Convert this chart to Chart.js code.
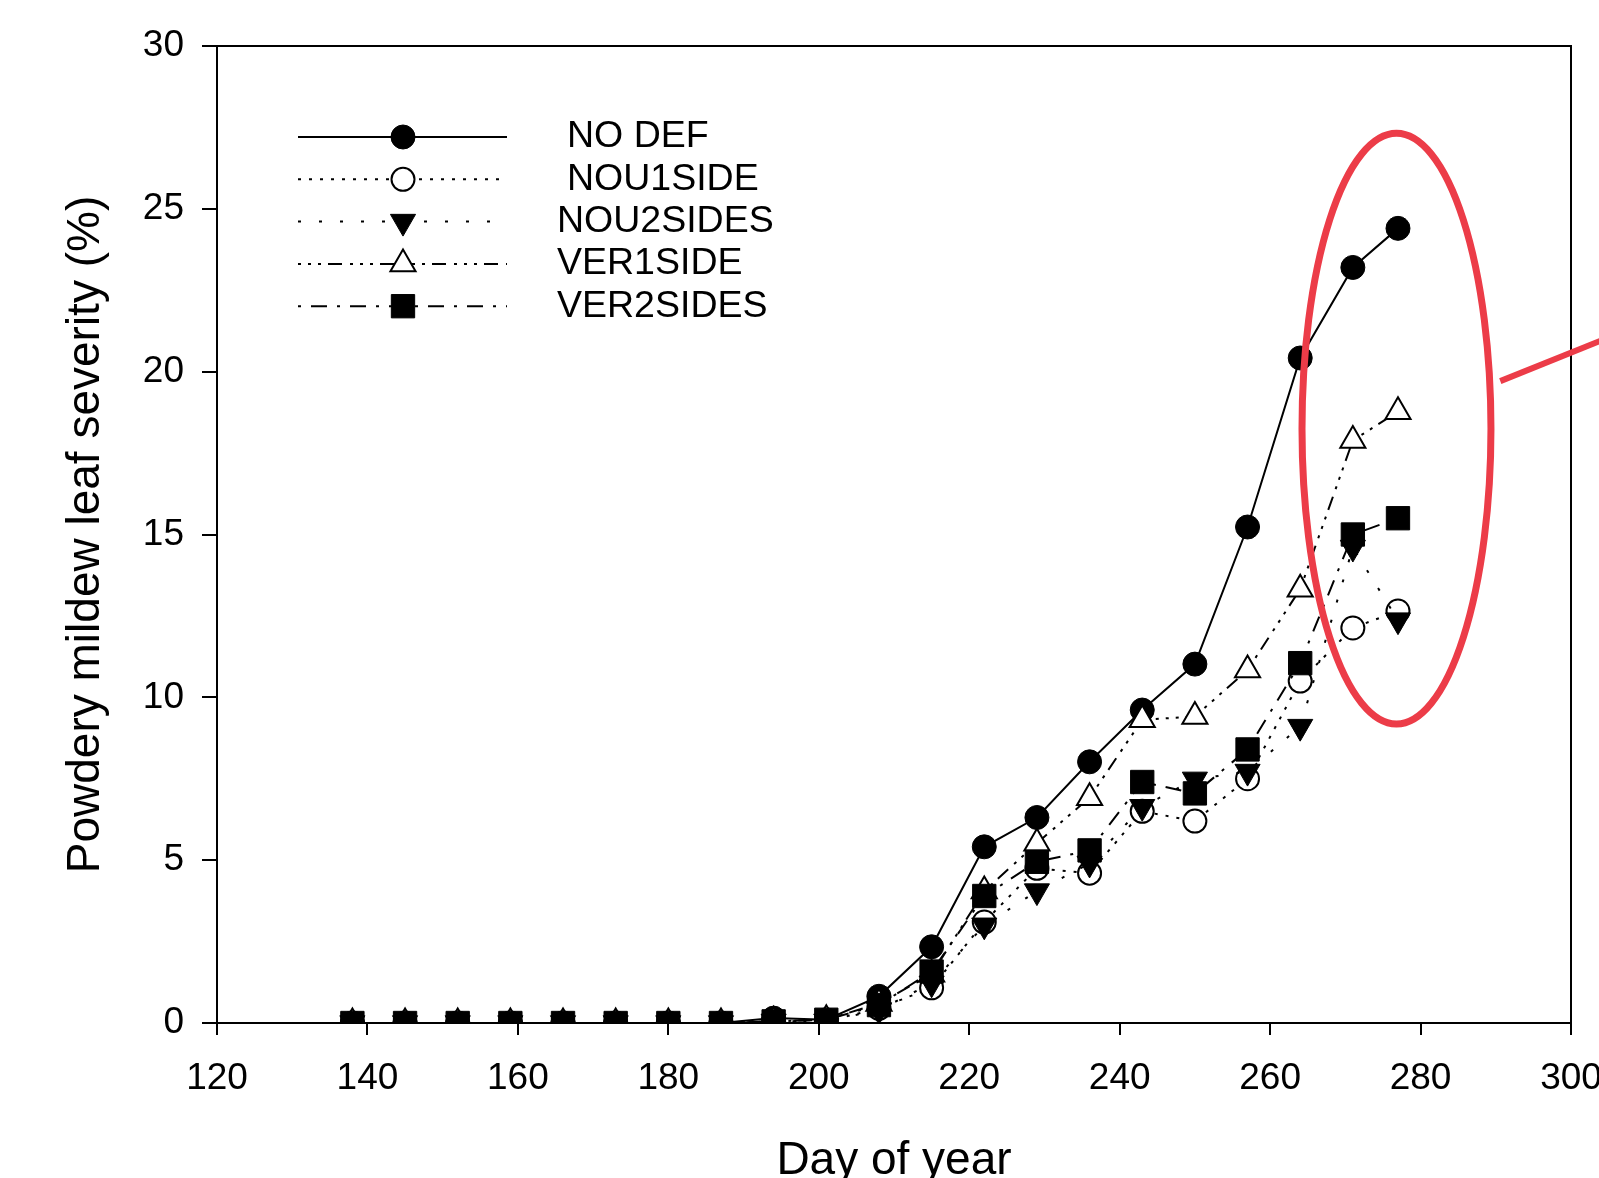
<!DOCTYPE html>
<html><head><meta charset="utf-8">
<script src="https://cdn.jsdelivr.net/npm/chart.js@4.4.1/dist/chart.umd.min.js"></script>
<style>
html,body{margin:0;padding:0;overflow:hidden;background:#fff;width:1599px;height:1178px}
#wrap{position:absolute;left:0;top:0;width:1640px;height:1200px}
</style></head>
<body><div id="wrap"><canvas id="c" width="1640" height="1200"></canvas></div>
<script>
// ---- data ----
const days = [138,145,152,159,166,173,180,187,194,201,208,215,222,229,236,243,250,257,264,271,277];
const noDef     = [0,0,0,0,0,0,0,0,0.15,0.1,0.82,2.34,5.41,6.31,8.02,9.61,11.02,15.23,20.42,23.2,24.4];
const nou1Side  = [0,0,0,0,0,0,0,0,0.05,0.05,0.45,1.08,3.1,4.75,4.6,6.5,6.2,7.5,10.5,12.13,12.65];
const nou2Sides = [0,0,0,0,0,0,0,0,0.05,0.05,0.4,1.22,3.0,4.05,4.9,6.64,7.48,7.72,9.1,14.6,12.37];
const ver1Side  = [0,0,0,0,0,0,0,0,0.05,0.1,0.6,1.5,4.05,5.52,6.92,9.31,9.41,10.84,13.32,17.89,18.77];
const ver2Sides = [0,0,0,0,0,0,0,0,0.05,0.1,0.55,1.58,3.9,4.95,5.3,7.4,7.05,8.4,11.05,15.0,15.5];
const seriesNames = ['NO DEF','NOU1SIDE','NOU2SIDES','VER1SIDE','VER2SIDES'];
const xTicks = [120,140,160,180,200,220,240,260,280,300];
const yTicks = [0,5,10,15,20,25,30];
const xTitle = 'Day of year';
const yTitle = 'Powdery mildew leaf severity (%)';
// highlight annotation (data coordinates)
const highlightEllipse = {cx: 276.8, cy: 18.25, rx: 12.56, ry: 9.07};
const highlightLine = {x1: 290.6, y1: 19.71, x2: 312, y2: 21.7};

const FONT = "'Liberation Sans', Arial, Helvetica, sans-serif";

function pts(arr){ return days.map((d,i)=>({x:d, y:arr[i]})); }

const styles = [
  {pointStyle:'circle', radius:12, fill:'#000', bw:1, dash:[], rot:0},
  {pointStyle:'circle', radius:11.5, fill:'#fff', bw:2, dash:[3,8], rot:0},
  {pointStyle:'triangle', radius:14.5, fill:'#000', bw:1, dash:[3,18], rot:180},
  {pointStyle:'triangle', radius:14.5, fill:'#fff', bw:2, dash:[3,7,3,7,3,7,14,8], rot:0},
  {pointStyle:'rect', radius:16.5, fill:'#000', bw:1, dash:[3,10,16,10], rot:0}
];
const seriesData = [noDef, nou1Side, nou2Sides, ver1Side, ver2Sides];

const datasets = seriesData.map((arr,i)=>({
  label: seriesNames[i],
  data: pts(arr),
  borderColor:'#000',
  borderWidth:2,
  borderDash: styles[i].dash,
  pointStyle: styles[i].pointStyle,
  pointRadius: styles[i].radius,
  pointHoverRadius: styles[i].radius,
  pointRotation: styles[i].rot,
  pointBackgroundColor: styles[i].fill,
  pointBorderColor:'#000',
  pointBorderWidth: styles[i].bw,
  fill:false,
  tension:0,
  order: 5 - i
}));

function drawMarker(ctx, st, x, y){
  ctx.save();
  ctx.fillStyle = st.fill; ctx.strokeStyle = '#000'; ctx.lineWidth = st.bw;
  ctx.setLineDash([]);
  ctx.beginPath();
  const r = st.radius;
  if (st.pointStyle === 'circle') {
    ctx.arc(x, y, r, 0, Math.PI*2);
  } else if (st.pointStyle === 'rect') {
    const s = Math.SQRT1_2 * r;
    ctx.rect(x - s, y - s, 2*s, 2*s);
  } else {
    let rad = st.rot * Math.PI/180;
    for (let k=0;k<3;k++){
      const px = x + Math.sin(rad)*r, py = y - Math.cos(rad)*r;
      if (k===0) ctx.moveTo(px,py); else ctx.lineTo(px,py);
      rad += 2*Math.PI/3;
    }
    ctx.closePath();
  }
  ctx.fill(); ctx.stroke();
  ctx.restore();
}

const legendPlugin = {
  id:'customLegend',
  afterDraw(chart, args, o){
    const ctx = chart.ctx;
    seriesNames.forEach((name,i)=>{
      const y = o.top + i*o.rowGap;
      ctx.save();
      ctx.strokeStyle = '#000'; ctx.lineWidth = 2;
      ctx.setLineDash(styles[i].dash);
      ctx.beginPath(); ctx.moveTo(o.x0, y); ctx.lineTo(o.x1, y); ctx.stroke();
      ctx.restore();
      drawMarker(ctx, styles[i], o.mx, y);
      ctx.save();
      ctx.fillStyle = '#000'; ctx.font = o.fontSize + 'px ' + FONT;
      ctx.textBaseline = 'middle'; ctx.textAlign = 'left';
      ctx.fillText(name, o.textX[i], y);
      ctx.restore();
    });
  }
};

const framePlugin = {
  id:'frame',
  afterDraw(chart){
    const {ctx, chartArea:a, scales} = chart;
    ctx.save();
    ctx.strokeStyle = '#000'; ctx.lineWidth = 2;
    ctx.beginPath();
    ctx.moveTo(a.left, a.top); ctx.lineTo(a.right, a.top); ctx.lineTo(a.right, a.bottom);
    ctx.stroke();
    // highlight annotation
    const xs = scales.x, ys = scales.y;
    const cx = xs.getPixelForValue(highlightEllipse.cx), cy = ys.getPixelForValue(highlightEllipse.cy);
    const rx = Math.abs(xs.getPixelForValue(highlightEllipse.cx + highlightEllipse.rx) - cx);
    const ry = Math.abs(ys.getPixelForValue(highlightEllipse.cy + highlightEllipse.ry) - cy);
    ctx.strokeStyle = 'rgb(236,60,72)'; ctx.lineWidth = 7;
    ctx.beginPath(); ctx.ellipse(cx, cy, rx, ry, 0, 0, Math.PI*2); ctx.stroke();
    ctx.lineWidth = 6;
    ctx.beginPath();
    ctx.moveTo(xs.getPixelForValue(highlightLine.x1), ys.getPixelForValue(highlightLine.y1));
    ctx.lineTo(xs.getPixelForValue(highlightLine.x2), ys.getPixelForValue(highlightLine.y2));
    ctx.stroke();
    ctx.restore();
  }
};

function zeroPad(s){ s.paddingLeft = 0; s.paddingRight = 0; s.paddingTop = 0; s.paddingBottom = 0; }

new Chart(document.getElementById('c'), {
  type:'line',
  data:{datasets},
  options:{
    responsive:false,
    animation:false,
    devicePixelRatio:1,
    layout:{padding:{top:46, right:69, left:0, bottom:0}},
    plugins:{
      legend:{display:false},
      tooltip:{enabled:false},
      customLegend:{top:137, rowGap:42.3, x0:298, x1:507, mx:403, fontSize:37.5, textX:[567,567,557,557,557]}
    },
    scales:{
      x:{
        type:'linear', min:120, max:300,
        afterBuildTicks(s){ s.ticks = xTicks.map(v=>({value:v})); },
        afterFit(s){ s.height = 177; zeroPad(s); },
        grid:{drawOnChartArea:false, drawTicks:true, tickLength:12, color:'#000', lineWidth:2},
        border:{display:true, color:'#000', width:2},
        ticks:{color:'#000', font:{family:FONT, size:37}, padding:22, maxRotation:0, autoSkip:false},
        title:{display:true, text:xTitle, color:'#000', font:{family:FONT, size:46}, padding:{top:0,bottom:11}}
      },
      y:{
        type:'linear', min:0, max:30,
        afterBuildTicks(s){ s.ticks = yTicks.map(v=>({value:v})); },
        afterFit(s){ s.width = 217; zeroPad(s); },
        grid:{drawOnChartArea:false, drawTicks:true, tickLength:15, color:'#000', lineWidth:2},
        border:{display:true, color:'#000', width:2},
        ticks:{color:'#000', font:{family:FONT, size:37}, padding:18, autoSkip:false},
        title:{display:true, text:yTitle, color:'#000', font:{family:FONT, size:46}, padding:{top:59,bottom:0}}
      }
    }
  },
  plugins:[legendPlugin, framePlugin]
});
</script>
</body></html>
